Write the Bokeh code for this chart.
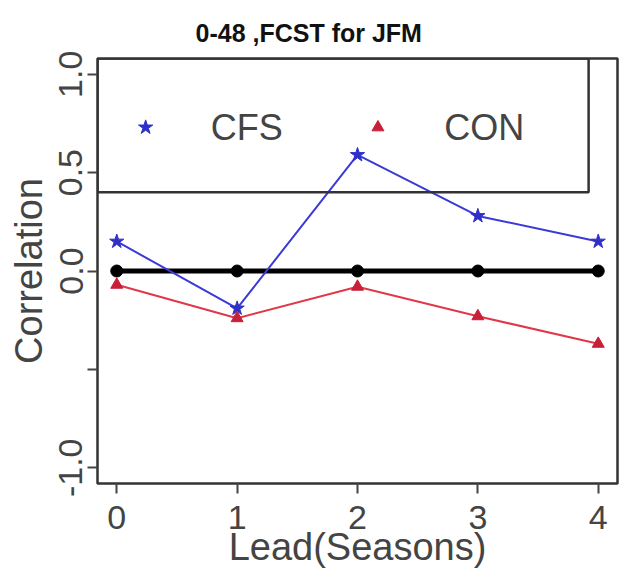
from bokeh.plotting import figure
from bokeh.models import Range1d, FixedTicker, BoxAnnotation, CustomJSTickFormatter
from bokeh.embed import file_html
from bokeh.resources import INLINE
from bokeh.core.properties import value

leads = [0, 1, 2, 3, 4]
cfs = [0.15, -0.19, 0.59, 0.28, 0.15]
con = [-0.07, -0.24, -0.08, -0.23, -0.37]
zero = [0.0, 0.0, 0.0, 0.0, 0.0]
y_ticks = [-1.0, -0.5, 0.0, 0.5, 1.0]
series_names = ["CFS", "CON"]
title = "0-48 ,FCST for JFM"

FONT = "Liberation Sans"
BLUE = "#3a3ad8"
RED = "#e03848"
BLUE_M = "#3030c8"
RED_M = "#c82038"

p = figure(width=624, height=570, output_backend="svg", toolbar_location=None,
           x_range=Range1d(-0.16, 4.16), y_range=Range1d(-1.08, 1.08),
           min_border_left=97, min_border_right=7, min_border_top=58, min_border_bottom=87)
p.grid.visible = False
p.outline_line_color = "#333333"
p.outline_line_width = 2.5
p.background_fill_color = "white"
p.border_fill_color = "white"

p.title.text = title
p.title.align = "left"
p.title.offset = 98
p.title.standoff = 24
p.title.text_font = FONT
p.title.text_font_size = "25px"
p.title.text_font_style = "bold"
p.title.text_color = "#111111"

# axes
p.xaxis.ticker = FixedTicker(ticks=leads)
p.yaxis.ticker = FixedTicker(ticks=y_ticks)
p.yaxis.formatter = CustomJSTickFormatter(code="return tick == -0.5 ? '' : tick.toFixed(1);")
p.yaxis.major_label_orientation = "vertical"
for ax in (p.xaxis[0], p.yaxis[0]):
    ax.axis_line_color = None
    ax.major_tick_line_color = "#444444"
    ax.major_tick_line_width = 2
    ax.major_tick_out = 10
    ax.major_tick_in = 0
    ax.minor_tick_line_color = None
    ax.major_label_text_font = FONT
    ax.major_label_text_font_size = "34px"
    ax.major_label_text_color = "#444444"
    ax.axis_label_text_font = FONT
    ax.axis_label_text_font_size = "38px"
    ax.axis_label_text_font_style = "normal"
    ax.axis_label_text_color = "#444444"
p.xaxis.axis_label = "Lead(Seasons)"
p.xaxis.major_label_standoff = 12
p.xaxis.axis_label_standoff = -6
p.yaxis.axis_label = "Correlation"
p.yaxis.major_label_standoff = 5
p.yaxis.axis_label_standoff = 7

# series
p.line(leads, zero, line_color="black", line_width=5)
p.scatter(leads, zero, marker="circle", size=12, fill_color="black", line_color="black")
p.line(leads, cfs, line_color=BLUE, line_width=2)
p.scatter(leads, cfs, marker="star", size=15, fill_color=BLUE_M, line_color=BLUE_M)
p.line(leads, con, line_color=RED, line_width=2)
p.scatter(leads, con, marker="triangle", size=12, fill_color=RED_M, line_color=RED_M)

# legend box (R style)
p.add_layout(BoxAnnotation(left=-0.16, right=3.92, bottom=0.40, top=1.08,
                           fill_color=None, line_color="#333333", line_alpha=1.0, line_width=2.5))
p.scatter([0.24], [0.73], marker="star", size=15, fill_color=BLUE_M, line_color=BLUE_M)
p.scatter([2.17], [0.73], marker="triangle", size=12, fill_color=RED_M, line_color=RED_M)
p.text([0.78, 2.72], [0.73, 0.73], text=series_names, text_font=value(FONT), text_font_size="36px",
       text_color="#444444", text_align="left", text_baseline="middle")

open("out.html", "w").write(file_html(p, INLINE))
